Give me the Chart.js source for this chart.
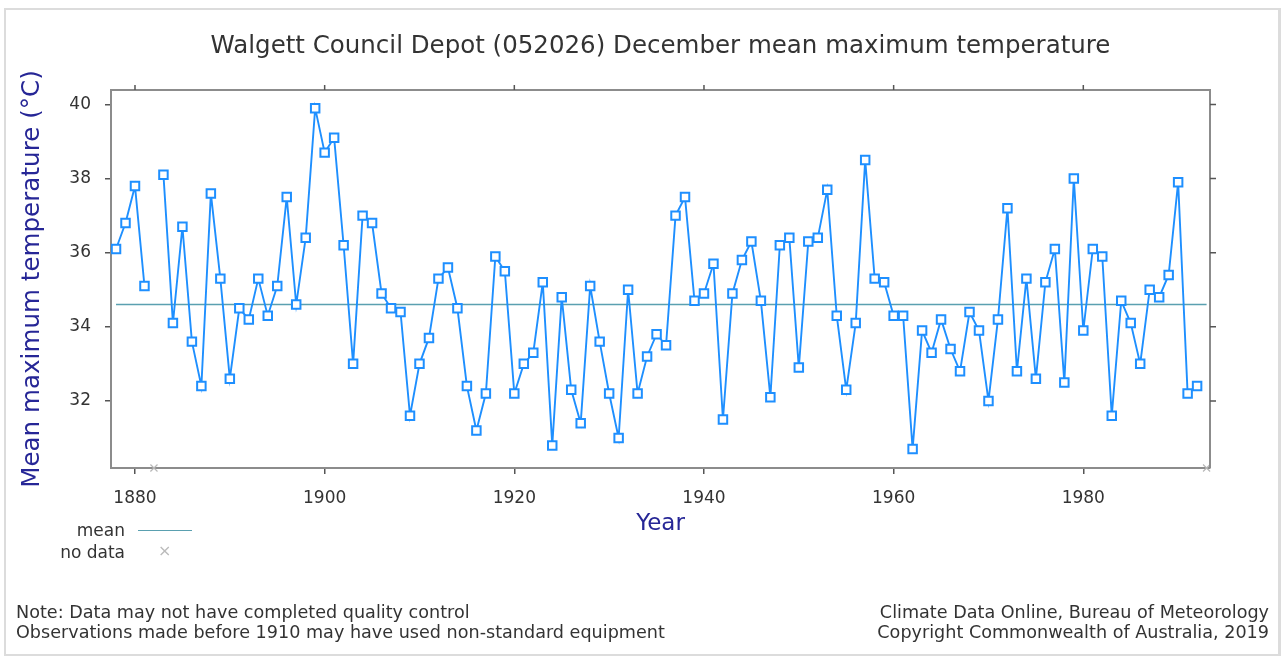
<!DOCTYPE html>
<html>
<head>
<meta charset="utf-8">
<script src="https://cdn.jsdelivr.net/npm/chart.js@4/dist/chart.umd.min.js"></script>
<style>
  html, body { margin: 0; padding: 0; background: #fff; }
  #wrap { position: relative; width: 1283px; height: 657px; overflow: hidden; font-family: "DejaVu Sans", Verdana, sans-serif; }
  #frame { position: absolute; left: 4px; top: 8px; width: 1272px; height: 644px; border: 2px solid #dcdcdc; border-right-width: 3px; box-sizing: content-box; }
  canvas { position: absolute; left: 0; top: 0; }
  .txt { position: absolute; color: #333; font-size: 17.6px; white-space: nowrap; line-height: 20px; }
  .leg { font-size: 17px; }
  .legline { position: absolute; left: 138px; top: 530px; width: 54px; height: 0; border-top: 1.5px solid #5aa0b0; }
</style>
</head>
<body>
<div id="wrap">
  <div id="frame"></div>
  <canvas id="c" width="1283" height="657"></canvas>
  <div class="txt leg" style="right:1158px; top:520px;">mean</div>
  <div class="legline"></div>
  <div class="txt leg" style="right:1158px; top:542px;">no data</div>
  <div class="txt" style="left:158px; top:541px; color:#bbb; font-size:16px;">×</div>
  <div class="txt" style="left:16px; top:602px;">Note: Data may not have completed quality control</div>
  <div class="txt" style="left:16px; top:622px;">Observations made before 1910 may have used non-standard equipment</div>
  <div class="txt" style="right:14px; top:602px;">Climate Data Online, Bureau of Meteorology</div>
  <div class="txt" style="right:14px; top:622px;">Copyright Commonwealth of Australia, 2019</div>
</div>
<script>
// ---- data ----
const years = [1878,1879,1880,1881,1882,1883,1884,1885,1886,1887,1888,1889,1890,1891,1892,1893,1894,1895,1896,1897,1898,1899,
  1900,1901,1902,1903,1904,1905,1906,1907,1908,1909,1910,1911,1912,1913,1914,1915,1916,1917,1918,1919,
  1920,1921,1922,1923,1924,1925,1926,1927,1928,1929,1930,1931,1932,1933,1934,1935,1936,1937,1938,1939,
  1940,1941,1942,1943,1944,1945,1946,1947,1948,1949,1950,1951,1952,1953,1954,1955,1956,1957,1958,1959,
  1960,1961,1962,1963,1964,1965,1966,1967,1968,1969,1970,1971,1972,1973,1974,1975,1976,1977,1978,1979,
  1980,1981,1982,1983,1984,1985,1986,1987,1988,1989,1990,1991,1992];
const temps = [36.1,36.8,37.8,35.1,null,38.1,34.1,36.7,33.6,32.4,37.6,35.3,32.6,34.5,34.2,35.3,34.3,35.1,37.5,34.6,36.4,39.9,
  38.7,39.1,36.2,33.0,37.0,36.8,34.9,34.5,34.4,31.6,33.0,33.7,35.3,35.6,34.5,32.4,31.2,32.2,35.9,35.5,
  32.2,33.0,33.3,35.2,30.8,34.8,32.3,31.4,35.1,33.6,32.2,31.0,35.0,32.2,33.2,33.8,33.5,37.0,37.5,34.7,
  34.9,35.7,31.5,34.9,35.8,36.3,34.7,32.1,36.2,36.4,32.9,36.3,36.4,37.7,34.3,32.3,34.1,38.5,35.3,35.2,
  34.3,34.3,30.7,33.9,33.3,34.2,33.4,32.8,34.4,33.9,32.0,34.2,37.2,32.8,35.3,32.6,35.2,36.1,32.5,38.0,
  33.9,36.1,35.9,31.6,34.7,34.1,33.0,35.0,34.8,35.4,37.9,32.2,32.4];
const meanValue = 34.6;
const meanYears = [1878, 1993];
const noDataYears = [1882, 1993];
const xTickValues = [1880, 1900, 1920, 1940, 1960, 1980];
const yTickValues = [32, 34, 36, 38, 40];

const FONT = '"DejaVu Sans", Verdana, sans-serif';
const X_MIN = 1877.47, X_MAX = 1993.36, Y_MIN = 30.19, Y_MAX = 40.39;

const framePlugin = {
  id: 'frame',
  afterDatasetsDraw(chart) {
    const {ctx, chartArea: a, scales: {x, y}} = chart;
    ctx.save();
    ctx.strokeStyle = '#8c8c8c';
    ctx.lineWidth = 2;
    ctx.beginPath();
    ctx.moveTo(a.left, a.top); ctx.lineTo(a.right, a.top); ctx.lineTo(a.right, a.bottom);
    ctx.stroke();
    ctx.strokeStyle = '#555';
    ctx.lineWidth = 1.5;
    ctx.beginPath();
    xTickValues.forEach(v => { const px = x.getPixelForValue(v); ctx.moveTo(px, a.top); ctx.lineTo(px, a.top - 5); });
    yTickValues.forEach(v => { const py = y.getPixelForValue(v); ctx.moveTo(a.right, py); ctx.lineTo(a.right + 6, py); });
    ctx.stroke();
    ctx.restore();
  }
};

new Chart(document.getElementById('c'), {
  type: 'line',
  data: {
    datasets: [
      {
        label: 'December mean maximum temperature',
        data: years.map((yr, i) => ({x: yr, y: temps[i]})),
        borderColor: '#1e8fff',
        borderWidth: 1.9,
        pointStyle: 'rect',
        pointRadius: 6,
        pointBorderWidth: 2,
        pointBorderColor: '#1e8fff',
        pointBackgroundColor: '#ffffff',
        spanGaps: false,
        tension: 0,
        order: 1
      },
      {
        label: 'mean',
        data: meanYears.map(yr => ({x: yr, y: meanValue})),
        borderColor: '#5aa0b0',
        borderWidth: 1.5,
        pointRadius: 0,
        order: 2
      },
      {
        label: 'no data',
        type: 'scatter',
        data: noDataYears.map(yr => ({x: yr, y: Y_MIN})),
        pointStyle: 'crossRot',
        pointRadius: 5,
        pointBorderWidth: 1.2,
        borderColor: '#b8b8b8',
        showLine: false,
        clip: false,
        order: 3
      }
    ]
  },
  options: {
    responsive: false,
    animation: false,
    events: [],
    layout: { padding: { left: 0, right: 73, top: 0, bottom: 0 } },
    plugins: {
      legend: { display: false },
      tooltip: { enabled: false },
      title: {
        display: true,
        fullSize: false,
        text: 'Walgett Council Depot (052026) December mean maximum temperature',
        color: '#333',
        font: { family: FONT, size: 24.5, weight: 'normal', lineHeight: 1.2 },
        padding: { top: 32, bottom: 28.6 }
      }
    },
    scales: {
      x: {
        type: 'linear',
        position: 'bottom',
        min: X_MIN, max: X_MAX,
        afterBuildTicks: s => { s.ticks = xTickValues.map(v => ({value: v})); },
        afterFit: s => { s.height = 189; },
        ticks: { color: '#333', font: { family: FONT, size: 17 }, padding: 14, maxRotation: 0, callback: v => String(v) },
        grid: { drawOnChartArea: false, drawTicks: true, tickLength: 6, color: '#555', lineWidth: 1.5 },
        border: { display: true, color: '#8c8c8c', width: 2 },
        title: { display: true, text: 'Year', color: '#262696', font: { family: FONT, size: 23 }, padding: { top: 0, bottom: 119 } }
      },
      y: {
        type: 'linear',
        position: 'left',
        min: Y_MIN, max: Y_MAX,
        afterBuildTicks: s => { s.ticks = yTickValues.map(v => ({value: v})); },
        afterFit: s => { s.width = 111; },
        ticks: { color: '#333', font: { family: FONT, size: 17 }, padding: 14 },
        grid: { drawOnChartArea: false, drawTicks: true, tickLength: 6, color: '#555', lineWidth: 1.5 },
        border: { display: true, color: '#8c8c8c', width: 2 },
        title: { display: true, text: 'Mean maximum temperature (°C)', color: '#262696', font: { family: FONT, size: 24.6 }, padding: { top: 18, bottom: 0 } }
      }
    }
  },
  plugins: [framePlugin]
});
</script>
</body>
</html>
